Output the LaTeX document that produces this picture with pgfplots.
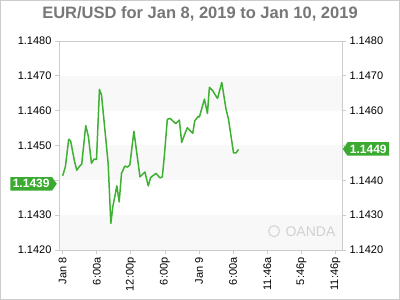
\documentclass[border=0pt]{standalone}
\usepackage{pgfplots}
\pgfplotsset{compat=1.18}
\usepackage{fontspec}
\setmainfont{Liberation Sans}
\usetikzlibrary{shapes.symbols}
\definecolor{oagreen}{RGB}{58,170,48}
\definecolor{linegreen}{RGB}{62,176,50}
\definecolor{band}{RGB}{248,248,248}
\definecolor{axisgray}{RGB}{204,204,204}
\definecolor{titlegray}{RGB}{119,119,119}
\begin{document}
\begin{tikzpicture}[x=1pt,y=1pt]
\path (0,0) rectangle (400,300);
\draw[axisgray, line width=1pt] (0.5,0.5) rectangle (399.5,299.5);
\node[font=\fontsize{16.5}{18}\selectfont\bfseries, text=titlegray] at (200,286) {EUR/USD for Jan 8, 2019 to Jan 10, 2019};
\begin{axis}[
  at={(59pt,50pt)}, anchor=south west,
  scale only axis, width=283pt, height=209pt,
  xmin=-0.65, xmax=49.15, ymin=1.142, ymax=1.148,
  axis line style={axisgray},
  xtick={0,6,12,18,24,30,36,42,48},
  xticklabels={Jan 8,6:00a,12:00p,6:00p,Jan 9,6:00a,11:46a,5:46p,11:46p},
  xtick pos=bottom, ytick pos=left, tick align=outside,
  major tick length=4pt,
  tick style={axisgray, line width=0.8pt},
  ytick={1.142,1.143,1.144,1.145,1.146,1.147,1.148},
  yticklabels={1.1420,1.1430,{},1.1450,1.1460,1.1470,1.1480},
  ticklabel style={font=\fontsize{11}{13}\selectfont, text=black},
  xticklabel style={rotate=90, anchor=east},
  /pgf/number format/assume math mode=true,
  clip=false,
  axis on top,
]
\fill[band] (axis cs:-0.65,1.146) rectangle (axis cs:49.15,1.147);
\fill[band] (axis cs:-0.65,1.144) rectangle (axis cs:49.15,1.145);
\fill[band] (axis cs:-0.65,1.142) rectangle (axis cs:49.15,1.143);
\draw[black!15, line width=1.3pt] (axis cs:37.2,1.14254) circle (5.5pt);
\node[text=black!18, font=\fontsize{14}{14}\selectfont, anchor=west] at (axis cs:38.6,1.14254) {OANDA};
\addplot[linegreen, line width=1.5pt, line join=round] coordinates {
(0,1.14413)
(0.47,1.14439)
(1.06,1.14518)
(1.4,1.14513)
(2.06,1.14456)
(2.47,1.14429)
(3,1.14441)
(3.35,1.14447)
(4.06,1.14557)
(4.53,1.14525)
(5.06,1.14449)
(5.53,1.14461)
(5.95,1.14460)
(6.47,1.14661)
(6.83,1.14645)
(8,1.14449)
(8.47,1.14276)
(8.82,1.14324)
(9.53,1.14384)
(9.94,1.14338)
(10.35,1.14420)
(10.94,1.14441)
(11.35,1.14438)
(11.82,1.14444)
(12.53,1.14541)
(13.6,1.14410)
(14.47,1.14424)
(15.06,1.14384)
(15.47,1.14408)
(16.41,1.14420)
(17.12,1.14407)
(17.53,1.14410)
(17.88,1.14468)
(18.41,1.14575)
(18.88,1.14578)
(19.88,1.14563)
(20.53,1.14573)
(20.94,1.14509)
(21.53,1.14535)
(21.94,1.14551)
(22.89,1.14535)
(23.24,1.14571)
(23.88,1.14584)
(24.06,1.14582)
(24.94,1.14633)
(25.47,1.14592)
(25.82,1.14667)
(26.41,1.14657)
(27.24,1.14635)
(28.0,1.14681)
(28.71,1.14607)
(29.18,1.14575)
(30.06,1.14479)
(30.53,1.14479)
(30.94,1.14489)
};
\node[signal, signal to=east, fill=oagreen, text=white, font=\fontsize{12}{13}\selectfont\bfseries, inner xsep=2.5pt, inner ysep=1.5pt, minimum height=13.5pt, signal pointer angle=110, anchor=east] at ([xshift=-2pt]axis cs:-0.65,1.1439) {1.1439};
\node[signal, signal to=west, fill=oagreen, text=white, font=\fontsize{12}{13}\selectfont\bfseries, inner xsep=2.5pt, inner ysep=1.5pt, minimum height=13.5pt, signal pointer angle=110, anchor=west] at ([xshift=0.5pt]axis cs:49.15,1.1449) {1.1449};
\end{axis}
\begin{axis}[
  at={(59pt,50pt)}, anchor=south west,
  scale only axis, width=283pt, height=209pt,
  xmin=-0.65, xmax=49.15, ymin=1.142, ymax=1.148,
  axis x line=none, axis y line*=right,
  axis line style={axisgray},
  tick align=outside, major tick length=4pt,
  tick style={axisgray, line width=0.8pt},
  ytick={1.142,1.143,1.144,1.145,1.146,1.147,1.148},
  yticklabels={1.1420,1.1430,1.1440,{},1.1460,1.1470,1.1480},
  ticklabel style={font=\fontsize{11}{13}\selectfont, text=black},
  /pgf/number format/assume math mode=true,
]
\end{axis}
\end{tikzpicture}
\end{document}
